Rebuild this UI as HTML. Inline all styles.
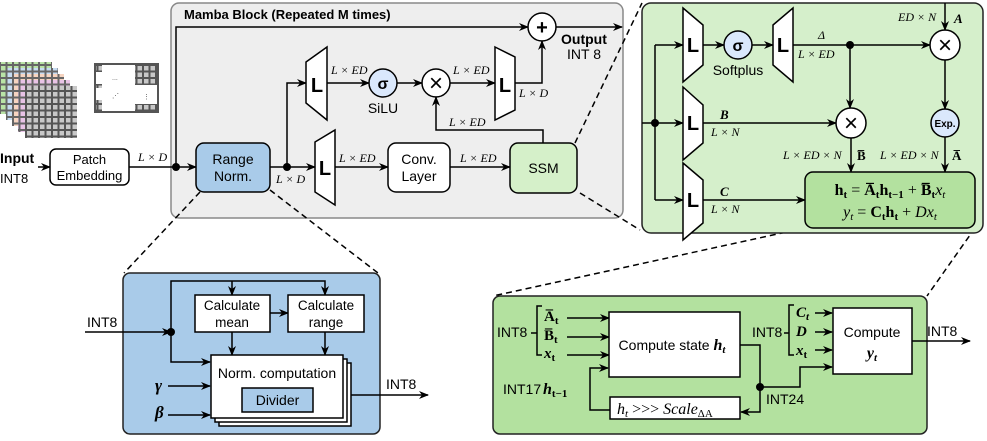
<!DOCTYPE html>
<html><head><meta charset="utf-8"><style>
html,body{margin:0;padding:0;background:#fff}
svg{display:block}
.m{font-family:"Liberation Serif",serif;font-style:italic}
.b{font-weight:bold}
.L{font-weight:bold}
</style></head><body>
<svg width="987" height="441" viewBox="0 0 987 441" xmlns="http://www.w3.org/2000/svg" font-family="Liberation Sans, sans-serif" font-size="13">
<defs>
<marker id="a" markerWidth="10" markerHeight="8" refX="9" refY="4" orient="auto" markerUnits="userSpaceOnUse"><path d="M0,0 L10,4 L0,8 L3,4 Z" fill="#000"/></marker>
<pattern id="pg" width="6.5" height="6.5" patternUnits="userSpaceOnUse"><rect width="6.5" height="6.5" fill="#666"/><rect x="1" y="1" width="4.5" height="4.5" fill="#b9e3a6"/></pattern>
<pattern id="pb" width="6.5" height="6.5" patternUnits="userSpaceOnUse"><rect width="6.5" height="6.5" fill="#666"/><rect x="1" y="1" width="4.5" height="4.5" fill="#c6dcf2"/></pattern>
<pattern id="pp" width="6.5" height="6.5" patternUnits="userSpaceOnUse"><rect width="6.5" height="6.5" fill="#666"/><rect x="1" y="1" width="4.5" height="4.5" fill="#f6d4c0"/></pattern>
<pattern id="pk" width="6.5" height="6.5" patternUnits="userSpaceOnUse"><rect width="6.5" height="6.5" fill="#666"/><rect x="1" y="1" width="4.5" height="4.5" fill="#e8c3e6"/></pattern>
<pattern id="pc" width="6.5" height="6.5" patternUnits="userSpaceOnUse"><rect width="6.5" height="6.5" fill="#555"/><rect x="1" y="1" width="4.5" height="4.5" fill="#c8c8c8"/></pattern>
</defs>

<!-- input icons -->
<rect x="0" y="62" width="52" height="52" fill="url(#pg)"/>
<rect x="6" y="68" width="52" height="52" fill="url(#pb)"/>
<rect x="12" y="74" width="52" height="52" fill="url(#pp)"/>
<rect x="18" y="80" width="52" height="52" fill="url(#pk)"/>
<rect x="25" y="86" width="52" height="52" fill="url(#pc)"/>
<rect x="95" y="64" width="63" height="48" fill="#fff" stroke="#555" stroke-width="2"/>
<rect x="96" y="65" width="6" height="46" fill="url(#pc)"/>
<rect x="135" y="65" width="22" height="20" fill="url(#pc)"/>
<rect x="135" y="104" width="22" height="7" fill="url(#pc)"/>
<rect x="102" y="72" width="33" height="32" fill="#fff"/>
<rect x="96" y="72" width="6" height="12" fill="#fff"/><rect x="96" y="88" width="6" height="12" fill="#fff"/>
<text x="112" y="80" font-size="7" fill="#555">...</text>
<text x="112" y="98" font-size="7" fill="#555">⋰</text>
<text x="143" y="99" font-size="7" fill="#555">⋮</text>

<!-- Mamba block -->
<rect x="171" y="3" width="452" height="215" rx="8" fill="#eeeeee" stroke="#888" stroke-width="1.5"/>
<text x="184" y="19" class="b">Mamba Block (Repeated M times)</text>

<text x="0" y="163" class="b" font-size="14">Input</text>
<text x="0" y="183">INT8</text>
<line x1="38" y1="167" x2="50" y2="167" stroke="#000" stroke-width="1.5" marker-end="url(#a)"/>
<rect x="50" y="149" width="79" height="36" rx="6" fill="#fff" stroke="#000" stroke-width="1.5"/>
<text x="89.5" y="164" text-anchor="middle">Patch</text>
<text x="89.5" y="180" text-anchor="middle">Embedding</text>
<line x1="129" y1="167" x2="196" y2="167" stroke="#000" stroke-width="1.5" marker-end="url(#a)"/>
<text x="138" y="161" class="m" font-size="12">L × D</text>
<circle cx="176" cy="167" r="4" fill="#000"/>
<polyline points="176,167 176,27 528,27" fill="none" stroke="#000" stroke-width="1.5" marker-end="url(#a)"/>
<circle cx="542" cy="27" r="14" fill="#fff" stroke="#000" stroke-width="1.5"/>
<text x="542" y="34" text-anchor="middle" class="b" font-size="20">+</text>
<line x1="556" y1="27" x2="622" y2="27" stroke="#000" stroke-width="1.5" marker-end="url(#a)"/>
<text x="561" y="44" class="b" font-size="14">Output</text>
<text x="567" y="59" font-size="14">INT 8</text>

<rect x="196" y="143" width="74" height="49" rx="8" fill="#a9cbe9" stroke="#000" stroke-width="1.5"/>
<text x="233" y="164" text-anchor="middle" font-size="14">Range</text>
<text x="233" y="181" text-anchor="middle" font-size="14">Norm.</text>
<line x1="270" y1="167" x2="315" y2="167" stroke="#000" stroke-width="1.5" marker-end="url(#a)"/>
<circle cx="287" cy="167" r="4" fill="#000"/>
<text x="276" y="183" class="m" font-size="12">L × D</text>
<polyline points="287,167 287,83 306,83" fill="none" stroke="#000" stroke-width="1.5" marker-end="url(#a)"/>

<polygon points="306,62 327,47 327,120 306,103" fill="#fff" stroke="#000" stroke-width="1.5"/>
<text x="317" y="92" class="L" font-size="20" text-anchor="middle">L</text>
<line x1="327" y1="83" x2="369" y2="83" stroke="#000" stroke-width="1.5" marker-end="url(#a)"/>
<text x="331" y="74" class="m" font-size="12">L × ED</text>
<circle cx="383" cy="83" r="14" fill="#dae8fc" stroke="#000" stroke-width="1.5"/>
<text x="383" y="89" text-anchor="middle" class="b" font-size="16">σ</text>
<text x="383" y="113" text-anchor="middle" font-size="14">SiLU</text>
<line x1="397" y1="83" x2="422" y2="83" stroke="#000" stroke-width="1.5" marker-end="url(#a)"/>
<circle cx="436" cy="83" r="14" fill="#fff" stroke="#000" stroke-width="1.5"/>
<text x="436" y="91" text-anchor="middle" font-size="24">×</text>
<line x1="450" y1="83" x2="495" y2="83" stroke="#000" stroke-width="1.5" marker-end="url(#a)"/>
<text x="453" y="74" class="m" font-size="12">L × ED</text>
<polygon points="495,47 515,57 515,110 495,120" fill="#fff" stroke="#000" stroke-width="1.5"/>
<text x="505" y="92" class="L" font-size="20" text-anchor="middle">L</text>
<polyline points="515,83 542,83 542,41" fill="none" stroke="#000" stroke-width="1.5" marker-end="url(#a)"/>
<text x="519" y="97" class="m" font-size="12">L × D</text>

<polygon points="315,142 335,130 335,205 315,192" fill="#fff" stroke="#000" stroke-width="1.5"/>
<text x="325" y="175" class="L" font-size="20" text-anchor="middle">L</text>
<line x1="335" y1="167" x2="388" y2="167" stroke="#000" stroke-width="1.5" marker-end="url(#a)"/>
<text x="339" y="162" class="m" font-size="12">L × ED</text>
<rect x="388" y="143" width="62" height="49" rx="8" fill="#fff" stroke="#000" stroke-width="1.5"/>
<text x="419" y="164" text-anchor="middle" font-size="14">Conv.</text>
<text x="419" y="181" text-anchor="middle" font-size="14">Layer</text>
<line x1="450" y1="167" x2="510" y2="167" stroke="#000" stroke-width="1.5" marker-end="url(#a)"/>
<text x="460" y="162" class="m" font-size="12">L × ED</text>
<rect x="510" y="143" width="67" height="50" rx="8" fill="#d5f0c9" stroke="#000" stroke-width="1.5"/>
<text x="543.5" y="173" text-anchor="middle" font-size="14">SSM</text>
<polyline points="543,143 543,130 436,130 436,97" fill="none" stroke="#000" stroke-width="1.5" marker-end="url(#a)"/>
<text x="449" y="126" class="m" font-size="12">L × ED</text>

<!-- dashed connectors -->
<g stroke="#000" stroke-width="1.5" stroke-dasharray="6,4" fill="none">
<line x1="575" y1="143" x2="642" y2="3"/>
<line x1="580" y1="193" x2="640" y2="230"/>
<line x1="200" y1="192" x2="124" y2="273"/>
<line x1="270" y1="190" x2="378" y2="273"/>
<line x1="805" y1="228" x2="493" y2="296"/>
<line x1="975" y1="228" x2="927" y2="296"/>
</g>

<!-- SSM detail -->
<rect x="642" y="3" width="341" height="230" rx="9" fill="#d5efcb" stroke="#222" stroke-width="1.5"/>
<line x1="642" y1="123" x2="683" y2="123" stroke="#000" stroke-width="1.5" marker-end="url(#a)"/>
<circle cx="655" cy="123" r="4" fill="#000"/>
<line x1="655" y1="45" x2="655" y2="200" stroke="#000" stroke-width="1.5"/>
<line x1="655" y1="45" x2="683" y2="45" stroke="#000" stroke-width="1.5" marker-end="url(#a)"/>
<line x1="655" y1="200" x2="683" y2="200" stroke="#000" stroke-width="1.5" marker-end="url(#a)"/>
<polygon points="683,8 703,25 703,65 683,82" fill="#fff" stroke="#000" stroke-width="1.5"/>
<text x="693" y="52" class="L" font-size="20" text-anchor="middle">L</text>
<polygon points="683,87 703,105 703,143 683,160" fill="#fff" stroke="#000" stroke-width="1.5"/>
<text x="693" y="130" class="L" font-size="20" text-anchor="middle">L</text>
<polygon points="683,163 703,180 703,223 683,240" fill="#fff" stroke="#000" stroke-width="1.5"/>
<text x="693" y="207" class="L" font-size="20" text-anchor="middle">L</text>
<line x1="703" y1="45" x2="724" y2="45" stroke="#000" stroke-width="1.5" marker-end="url(#a)"/>
<circle cx="738" cy="45" r="14" fill="#dae8fc" stroke="#000" stroke-width="1.5"/>
<text x="738" y="51" text-anchor="middle" class="b" font-size="16">σ</text>
<text x="738" y="75" text-anchor="middle" font-size="14">Softplus</text>
<line x1="752" y1="45" x2="773" y2="45" stroke="#000" stroke-width="1.5" marker-end="url(#a)"/>
<polygon points="773,25 793,8 793,82 773,65" fill="#fff" stroke="#000" stroke-width="1.5"/>
<text x="783" y="52" class="L" font-size="20" text-anchor="middle">L</text>
<line x1="793" y1="45" x2="930" y2="45" stroke="#000" stroke-width="1.5" marker-end="url(#a)"/>
<text x="818" y="39" class="m" font-size="12" font-style="normal">Δ</text>
<text x="798" y="58" class="m" font-size="12">L × ED</text>
<circle cx="850" cy="45" r="4" fill="#000"/>
<line x1="850" y1="45" x2="850" y2="108" stroke="#000" stroke-width="1.5" marker-end="url(#a)"/>
<circle cx="945" cy="45" r="15" fill="#fff" stroke="#000" stroke-width="1.5"/>
<text x="945" y="53" text-anchor="middle" font-size="24">×</text>
<line x1="945" y1="3" x2="945" y2="30" stroke="#000" stroke-width="1.5" marker-end="url(#a)"/>
<text x="898" y="21" class="m" font-size="12">ED × N</text>
<text x="954" y="23" class="m b" font-size="13">A</text>
<line x1="945" y1="60" x2="945" y2="109" stroke="#000" stroke-width="1.5" marker-end="url(#a)"/>
<circle cx="945" cy="123" r="14" fill="#dae8fc" stroke="#000" stroke-width="1.5"/>
<text x="945" y="127" text-anchor="middle" class="b" font-size="10">Exp.</text>
<line x1="703" y1="123" x2="836" y2="123" stroke="#000" stroke-width="1.5" marker-end="url(#a)"/>
<text x="720" y="119" class="m b" font-size="13">B</text>
<text x="711" y="136" class="m" font-size="12">L × N</text>
<circle cx="851" cy="123" r="15" fill="#fff" stroke="#000" stroke-width="1.5"/>
<text x="851" y="131" text-anchor="middle" font-size="24">×</text>
<line x1="851" y1="138" x2="851" y2="172" stroke="#000" stroke-width="1.5" marker-end="url(#a)"/>
<line x1="945" y1="137" x2="945" y2="172" stroke="#000" stroke-width="1.5" marker-end="url(#a)"/>
<text x="783" y="159" class="m" font-size="12">L × ED × N</text>
<text x="857" y="160" class="b" font-family="Liberation Serif, serif" font-size="13">B̅</text>
<text x="880" y="159" class="m" font-size="12">L × ED × N</text>
<text x="952" y="160" class="b" font-family="Liberation Serif, serif" font-size="13">A̅</text>
<line x1="703" y1="200" x2="805" y2="200" stroke="#000" stroke-width="1.5" marker-end="url(#a)"/>
<text x="720" y="196" class="m b" font-size="13">C</text>
<text x="711" y="213" class="m" font-size="12">L × N</text>
<rect x="805" y="172" width="170" height="56" rx="8" fill="#b3e19f" stroke="#000" stroke-width="1.5"/>
<text x="890" y="195" text-anchor="middle" font-family="Liberation Serif, serif" font-size="16"><tspan font-weight="bold">h<tspan font-size="11" dy="3">t</tspan></tspan><tspan dy="-3"> = </tspan><tspan font-weight="bold">A̅<tspan font-size="11" dy="3">t</tspan><tspan dy="-3">h</tspan><tspan font-size="11" dy="3">t−1</tspan></tspan><tspan dy="-3"> + </tspan><tspan font-weight="bold">B̅<tspan font-size="11" dy="3">t</tspan></tspan><tspan dy="-3" font-style="italic">x</tspan><tspan font-size="11" dy="3" font-style="italic">t</tspan></text>
<text x="890" y="217" text-anchor="middle" font-family="Liberation Serif, serif" font-size="16"><tspan font-style="italic">y</tspan><tspan font-size="11" dy="3" font-style="italic">t</tspan><tspan dy="-3"> = </tspan><tspan font-weight="bold">C<tspan font-size="11" dy="3">t</tspan><tspan dy="-3">h</tspan><tspan font-size="11" dy="3">t</tspan></tspan><tspan dy="-3"> + </tspan><tspan font-style="italic">Dx</tspan><tspan font-size="11" dy="3" font-style="italic">t</tspan></text>

<!-- Range norm detail -->
<rect x="123" y="273" width="257" height="161" rx="7" fill="#a9cbe9" stroke="#222" stroke-width="1.5"/>
<text x="87" y="327" font-size="14">INT8</text>
<line x1="85" y1="332" x2="171" y2="332" stroke="#000" stroke-width="1.5" marker-end="url(#a)"/>
<circle cx="171" cy="332" r="4" fill="#000"/>
<polyline points="171,332 171,281 325,281 325,295" fill="none" stroke="#000" stroke-width="1.5" marker-end="url(#a)"/>
<line x1="232" y1="281" x2="232" y2="295" stroke="#000" stroke-width="1.5" marker-end="url(#a)"/>
<rect x="195" y="295" width="75" height="37" fill="#fff" stroke="#000" stroke-width="1.5"/>
<text x="232" y="310" text-anchor="middle" font-size="13.5">Calculate</text>
<text x="232" y="327" text-anchor="middle" font-size="13.5">mean</text>
<line x1="270" y1="313" x2="288" y2="313" stroke="#000" stroke-width="1.5" marker-end="url(#a)"/>
<rect x="288" y="295" width="76" height="37" fill="#fff" stroke="#000" stroke-width="1.5"/>
<text x="326" y="310" text-anchor="middle" font-size="13.5">Calculate</text>
<text x="326" y="327" text-anchor="middle" font-size="13.5">range</text>
<line x1="232" y1="332" x2="232" y2="355" stroke="#000" stroke-width="1.5" marker-end="url(#a)"/>
<line x1="325" y1="332" x2="325" y2="355" stroke="#000" stroke-width="1.5" marker-end="url(#a)"/>
<rect x="219" y="363" width="132" height="63" fill="#fff" stroke="#000" stroke-width="1.5"/>
<rect x="215" y="359" width="132" height="63" fill="#fff" stroke="#000" stroke-width="1.5"/>
<rect x="211" y="355" width="132" height="63" fill="#fff" stroke="#000" stroke-width="1.5"/>
<polyline points="171,332 171,362 210,362" fill="none" stroke="#000" stroke-width="1.5" marker-end="url(#a)"/>
<text x="277" y="378" text-anchor="middle" font-size="14">Norm. computation</text>
<rect x="242" y="388" width="71" height="24" fill="#a9cbe9" stroke="#000" stroke-width="1.5"/>
<text x="277.5" y="405" text-anchor="middle" font-size="14">Divider</text>
<text x="155" y="391" class="m b" font-size="17">γ</text>
<line x1="168" y1="386" x2="210" y2="386" stroke="#000" stroke-width="1.5" marker-end="url(#a)"/>
<text x="155" y="418" class="m b" font-size="17">β</text>
<line x1="168" y1="415" x2="210" y2="415" stroke="#000" stroke-width="1.5" marker-end="url(#a)"/>
<line x1="351" y1="395" x2="428" y2="395" stroke="#000" stroke-width="1.5" marker-end="url(#a)"/>
<text x="386" y="389" font-size="14">INT8</text>

<!-- SSM compute detail -->
<rect x="493" y="296" width="434" height="138" rx="7" fill="#b3e19f" stroke="#222" stroke-width="1.5"/>
<text x="497" y="337" font-size="14">INT8</text>
<path d="M531,333 L537,333 M542,306 L537,306 L537,355 L542,355" fill="none" stroke="#000" stroke-width="1.5"/>
<text x="544" y="321" font-family="Liberation Serif, serif" font-weight="bold" font-size="15">A̅<tspan font-size="11" dy="3">t</tspan></text>
<text x="544" y="340" font-family="Liberation Serif, serif" font-weight="bold" font-size="15">B̅<tspan font-size="11" dy="3">t</tspan></text>
<text x="544" y="358" font-family="Liberation Serif, serif" font-weight="bold" font-style="italic" font-size="15">x<tspan font-size="11" dy="3" font-style="normal">t</tspan></text>
<line x1="567" y1="318" x2="609" y2="318" stroke="#000" stroke-width="1.5" marker-end="url(#a)"/>
<line x1="567" y1="337" x2="609" y2="337" stroke="#000" stroke-width="1.5" marker-end="url(#a)"/>
<line x1="567" y1="355" x2="609" y2="355" stroke="#000" stroke-width="1.5" marker-end="url(#a)"/>
<rect x="609" y="312" width="131" height="65" fill="#fff" stroke="#000" stroke-width="1.5"/>
<text x="672" y="350" text-anchor="middle" font-size="14">Compute state <tspan font-family="Liberation Serif, serif" font-style="italic" font-weight="bold" font-size="16">h<tspan font-size="11" dy="3">t</tspan></tspan></text>
<polyline points="740,345 760,345 760,412 741,412" fill="none" stroke="#000" stroke-width="1.5" marker-end="url(#a)"/>
<rect x="610" y="397" width="130" height="22" fill="#fff" stroke="#000" stroke-width="1.5"/>
<text x="617" y="414" font-family="Liberation Serif, serif" font-style="italic" font-size="16">h<tspan font-size="11" dy="3">t</tspan><tspan dy="-3" font-style="normal"> &gt;&gt;&gt; </tspan>Scale<tspan font-size="11" dy="3" font-style="normal">ΔA</tspan></text>
<polyline points="610,410 590,410 590,368 608,368" fill="none" stroke="#000" stroke-width="1.5" marker-end="url(#a)"/>
<text x="503" y="394" font-size="14">INT17</text>
<text x="543" y="394" font-family="Liberation Serif, serif" font-style="italic" font-weight="bold" font-size="16">h<tspan font-size="11" dy="3" font-style="normal">t−1</tspan></text>
<circle cx="760" cy="387" r="4" fill="#000"/>
<polyline points="760,387 800,387 800,367 832,367" fill="none" stroke="#000" stroke-width="1.5" marker-end="url(#a)"/>
<text x="766" y="404" font-size="14">INT24</text>
<text x="752" y="337" font-size="14">INT8</text>
<path d="M784,333 L789,333 M794,305 L789,305 L789,355 L794,355" fill="none" stroke="#000" stroke-width="1.5"/>
<text x="796" y="317" font-family="Liberation Serif, serif" font-weight="bold" font-style="italic" font-size="15">C<tspan font-size="11" dy="3">t</tspan></text>
<text x="796" y="336" font-family="Liberation Serif, serif" font-weight="bold" font-style="italic" font-size="15">D</text>
<text x="796" y="355" font-family="Liberation Serif, serif" font-weight="bold" font-style="italic" font-size="15">x<tspan font-size="11" dy="3" font-style="normal">t</tspan></text>
<line x1="815" y1="313" x2="832" y2="313" stroke="#000" stroke-width="1.5" marker-end="url(#a)"/>
<line x1="815" y1="332" x2="832" y2="332" stroke="#000" stroke-width="1.5" marker-end="url(#a)"/>
<line x1="815" y1="350" x2="832" y2="350" stroke="#000" stroke-width="1.5" marker-end="url(#a)"/>
<rect x="833" y="308" width="79" height="66" fill="#fff" stroke="#000" stroke-width="1.5"/>
<text x="872" y="337" text-anchor="middle" font-size="14">Compute</text>
<text x="872" y="358" text-anchor="middle" font-family="Liberation Serif, serif" font-style="italic" font-weight="bold" font-size="16">y<tspan font-size="11" dy="3">t</tspan></text>
<line x1="912" y1="341" x2="970" y2="341" stroke="#000" stroke-width="1.5" marker-end="url(#a)"/>
<text x="927" y="336" font-size="14">INT8</text>
</svg>
</body></html>
